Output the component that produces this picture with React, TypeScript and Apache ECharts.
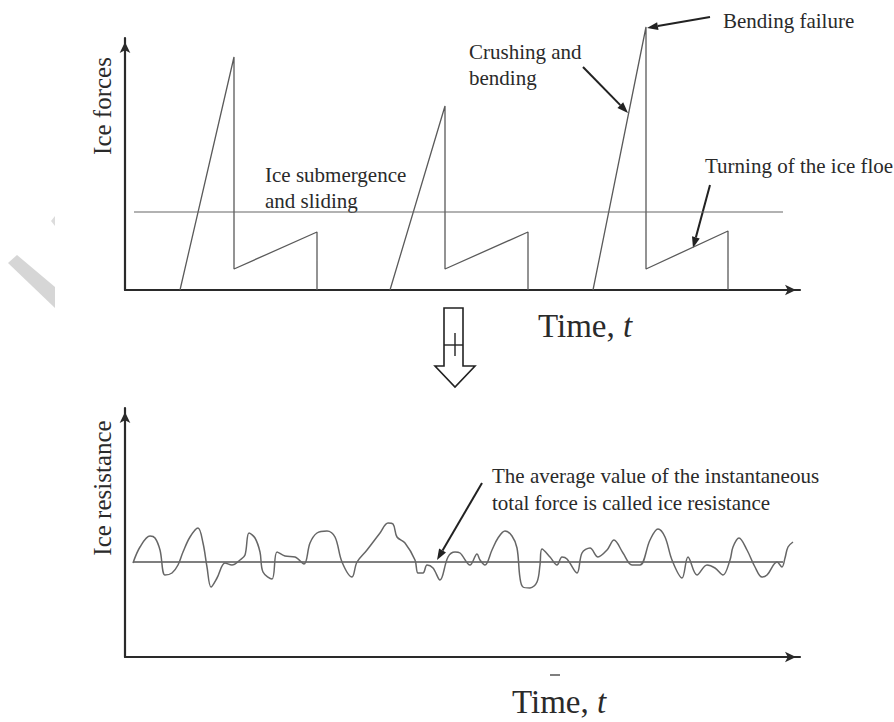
import React, { useEffect, useRef } from "react";
import * as echarts from "echarts";

// ---- Data (x: time units, y: force units) ----
const cycle1: number[][] = [[55, 0], [109, 233], [109, 21], [192, 58], [192, 0]];
const cycle2: number[][] = [[265, 0], [320, 184], [320, 21], [403, 58], [403, 0]];
const cycle3: number[][] = [[468, 0], [521, 263], [521, 21], [603, 59], [603, 0]];
const topMean: number[][] = [[9, 78], [658, 78]];

const resistance: number[][] = [
  [8, 94], [15, 110], [25, 121], [30, 119], [35, 107], [40, 82], [47, 84], [53, 92], [58, 105],
  [65, 120], [73, 129], [78, 114], [82, 90], [86, 70], [92, 79], [100, 94], [107, 92], [115, 97],
  [120, 102], [124, 124], [130, 119], [135, 105], [138, 85], [147, 78], [152, 105], [160, 101],
  [170, 100], [179, 93], [185, 114], [192, 124], [202, 126], [210, 120], [217, 95], [227, 80],
  [232, 95], [242, 107], [255, 124], [263, 134], [268, 133], [272, 120], [280, 114], [290, 97],
  [293, 84], [298, 84], [302, 92], [308, 89], [315, 77], [323, 100], [330, 105], [335, 104],
  [345, 92], [352, 103], [355, 97], [360, 92], [367, 107], [373, 119], [380, 126], [387, 121],
  [392, 109], [395, 79], [398, 70], [405, 69], [412, 75], [415, 92], [417, 108], [425, 100],
  [432, 92], [437, 100], [442, 98], [452, 84], [457, 104], [465, 109], [473, 100], [482, 107],
  [489, 117], [498, 104], [507, 92], [515, 92], [525, 117], [533, 128], [540, 120], [547, 97],
  [557, 79], [563, 100], [572, 82], [582, 92], [590, 89], [598, 82], [605, 97], [608, 110],
  [614, 119], [622, 107], [630, 90], [637, 80], [642, 82], [652, 95], [657, 90], [660, 99],
  [663, 110], [668, 115],
];
const bottomMean: number[][] = [[8, 95], [658, 95]];

const SERIF = "'Liberation Serif', 'Times New Roman', 'DejaVu Serif', serif";
const TEXT = "#2a2a2a";
const LINE = "#5a5a5a";
const AXIS = "#2a2a2a";

function arrow(x1: number, y1: number, x2: number, y2: number): any {
  const a = Math.atan2(y2 - y1, x2 - x1);
  const L = 11;
  const W = 4;
  const bx = x2 - L * Math.cos(a);
  const by = y2 - L * Math.sin(a);
  const px = -Math.sin(a);
  const py = Math.cos(a);
  return {
    type: "group",
    children: [
      { type: "line", shape: { x1, y1, x2: bx, y2: by }, style: { stroke: "#222", lineWidth: 2 } },
      {
        type: "polygon",
        shape: { points: [[x2, y2], [bx + W * px, by + W * py], [bx - W * px, by - W * py]] },
        style: { fill: "#222" },
      },
    ],
  };
}

function txt(text: string, x: number, y: number, size = 21, extra: any = {}, rotation = 0): any {
  return {
    type: "text",
    x,
    y,
    rotation,
    style: {
      text,
      fontFamily: SERIF,
      fontSize: size,
      fill: TEXT,
      textAlign: "left",
      textVerticalAlign: "middle",
      ...extra,
    },
  };
}

function timeLabel(x: number, y: number): any {
  return {
    type: "text",
    x,
    y,
    style: {
      text: "{a|Time, }{b|t}",
      textAlign: "left",
      textVerticalAlign: "middle",
      rich: {
        a: { fontFamily: SERIF, fontSize: 33, fill: TEXT },
        b: { fontFamily: SERIF, fontSize: 33, fill: TEXT, fontStyle: "italic" },
      },
    },
  };
}

const axisCommon = {
  type: "value" as const,
  splitLine: { show: false },
  axisTick: { show: false },
  axisLabel: { show: false },
};

function lineSeries(data: number[][], xi: number, color: string, width: number, extra: any = {}) {
  return {
    type: "line",
    xAxisIndex: xi,
    yAxisIndex: xi,
    data,
    symbol: "none",
    clip: false,
    lineStyle: { color, width },
    silent: true,
    ...extra,
  };
}

export default function App() {
  const ref = useRef<HTMLDivElement>(null);
  useEffect(() => {
    if (!ref.current) return;
    const chart = echarts.init(ref.current, undefined, { renderer: "svg" });
    const axisLine = (w: number) => ({
      show: true,
      symbol: ["none", "arrow"],
      symbolSize: [8, 11],
      symbolOffset: [0, -4],
      lineStyle: { color: AXIS, width: w },
    });
    chart.setOption({
      animation: false,
      backgroundColor: "#ffffff",
      grid: [
        { left: 125, top: 38, width: 675, height: 252 },
        { left: 125, top: 408, width: 675, height: 249 },
      ],
      xAxis: [
        { ...axisCommon, gridIndex: 0, min: 0, max: 675, axisLine: axisLine(2.2) },
        { ...axisCommon, gridIndex: 1, min: 0, max: 675, axisLine: axisLine(2.2) },
      ],
      yAxis: [
        { ...axisCommon, gridIndex: 0, min: 0, max: 252, axisLine: axisLine(2.2) },
        { ...axisCommon, gridIndex: 1, min: 0, max: 249, axisLine: axisLine(2.2) },
      ],
      series: [
        lineSeries(cycle1, 0, LINE, 1.3),
        lineSeries(cycle2, 0, LINE, 1.3),
        lineSeries(cycle3, 0, LINE, 1.3),
        lineSeries(topMean, 0, "#666", 1.2),
        lineSeries(bottomMean, 1, "#555", 1.4),
        lineSeries(resistance, 1, "#666", 1.5, { smooth: 0.35 }),
      ],
      graphic: [
        // watermark remnants
        { type: "polygon", shape: { points: [[8, 263], [17, 255], [55, 287], [55, 308]] }, style: { fill: "#d6d6d6" } },
        { type: "polygon", shape: { points: [[51, 221], [55, 216], [55, 226]] }, style: { fill: "#dcdcdc" } },
        // axis names (rotated)
        txt("Ice forces", 102, 106, 25, { textAlign: "center" }, Math.PI / 2),
        txt("Ice resistance", 102, 488, 25, { textAlign: "center" }, Math.PI / 2),
        // annotations top
        txt("Ice submergence", 265, 175),
        txt("and sliding", 265, 201),
        txt("Crushing and", 469, 52),
        txt("bending", 469, 78),
        txt("Bending failure", 723, 21),
        txt("Turning of the ice floe", 705, 166),
        arrow(710, 17, 647, 28),
        arrow(583, 67, 628, 113),
        arrow(710, 185, 693, 248),
        // annotation bottom
        txt("The average value of the instantaneous", 492, 476),
        txt("total force is called ice resistance", 492, 503),
        arrow(482, 483, 437, 560),
        // time labels
        timeLabel(538, 326),
        timeLabel(512, 702),
        // hollow down arrow
        {
          type: "polygon",
          shape: { points: [[444, 308], [463, 308], [463, 366], [475, 366], [455, 387], [435, 366], [444, 366]] },
          style: { fill: "#fff", stroke: "#222", lineWidth: 1.6 },
        },
        { type: "line", shape: { x1: 444, y1: 345, x2: 463, y2: 345 }, style: { stroke: "#222", lineWidth: 1.4 } },
        { type: "line", shape: { x1: 455, y1: 333, x2: 455, y2: 356 }, style: { stroke: "#222", lineWidth: 1.4 } },
        // small mark under bottom axis
        { type: "line", shape: { x1: 550, y1: 675, x2: 560, y2: 675 }, style: { stroke: "#555", lineWidth: 1.5 } },
      ],
    });
    return () => chart.dispose();
  }, []);
  return (
    <div
      ref={ref}
      style={{ position: "fixed", left: 0, top: 0, width: 894, height: 722, background: "#fff" }}
    />
  );
}
